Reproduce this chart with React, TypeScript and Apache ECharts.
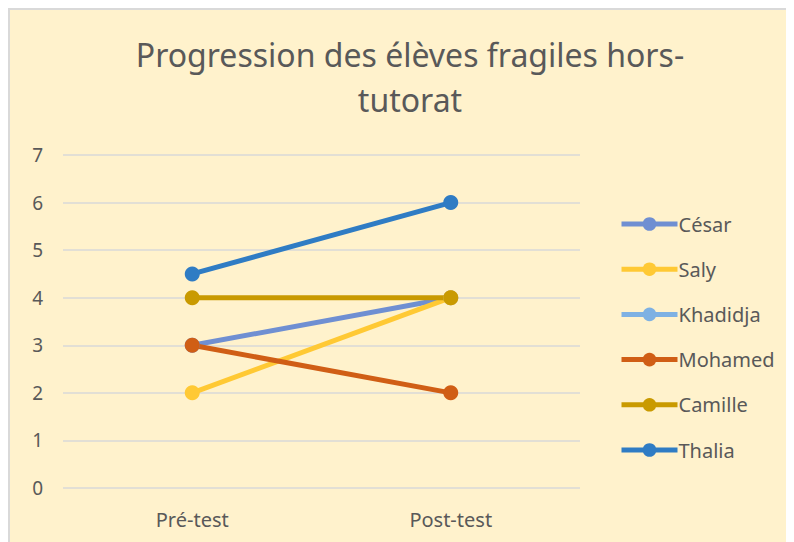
import React, { useEffect, useRef } from "react";
import * as echarts from "echarts";

const categories = ["Pré-test", "Post-test"];
const seriesNames = ["César", "Saly", "Khadidja", "Mohamed", "Camille", "Thalia"];
const cesar = [3, 4];
const saly = [2, 4];
const khadidja: (number | null)[] = [null, null];
const mohamed = [3, 2];
const camille = [4, 4];
const thalia = [4.5, 6];
const yTicks = [0, 1, 2, 3, 4, 5, 6, 7];

const colors = ["#6F8FD2", "#FFC934", "#7EB1E3", "#D05E15", "#C99A00", "#2F7CC4"];
const values = [cesar, saly, khadidja, mohamed, camille, thalia];

export default function App() {
  const ref = useRef<HTMLDivElement>(null);
  useEffect(() => {
    const chart = echarts.init(ref.current!, null, { renderer: "svg" });
    const font = "Noto Sans";
    chart.setOption({
      animation: false,
      backgroundColor: "#FFF2CC",
      title: {
        text: "Progression des élèves fragiles hors-\ntutorat",
        left: 395,
        textAlign: "center",
        top: 17,
        textStyle: {
          fontFamily: font,
          fontSize: 32,
          fontWeight: "normal",
          color: "#595959",
          lineHeight: 45,
        },
      },
      legend: {
        orient: "vertical",
        left: 609,
        top: 203,
        padding: 0,
        itemWidth: 56,
        itemHeight: 17,
        itemGap: 23.2,
        lineStyle: { width: 5 },
        textStyle: { fontFamily: font, fontSize: 20, color: "#595959", lineHeight: 22, padding: [0, 0, 0, -4] },
        data: seriesNames,
      },
      grid: { left: 53, right: 214, top: 145, bottom: 54 },
      xAxis: {
        type: "category",
        data: categories,
        boundaryGap: true,
        axisLine: { show: false },
        axisTick: { show: false },
        axisLabel: { fontFamily: font, fontSize: 20, color: "#595959", margin: 21 },
      },
      yAxis: {
        type: "value",
        min: yTicks[0],
        max: yTicks[yTicks.length - 1],
        interval: 1,
        axisLine: { show: false },
        axisTick: { show: false },
        splitLine: { lineStyle: { color: "#D9D9D9", width: 1.5 } },
        axisLabel: { fontFamily: font, fontSize: 19, color: "#595959", margin: 20 },
      },
      series: seriesNames.map((name, i) => ({
        name,
        type: "line",
        data: values[i],
        color: colors[i],
        symbol: "circle",
        symbolSize: 15,
        lineStyle: { width: 5, color: colors[i] },
        itemStyle: { color: colors[i] },
      })),
    });
    return () => chart.dispose();
  }, []);
  return (
    <div
      ref={ref}
      style={{
        width: 786,
        height: 534,
        borderLeft: "2px solid #D9D9D9",
        borderTop: "2px solid #D9D9D9",
        boxSizing: "border-box",
      }}
    />
  );
}
